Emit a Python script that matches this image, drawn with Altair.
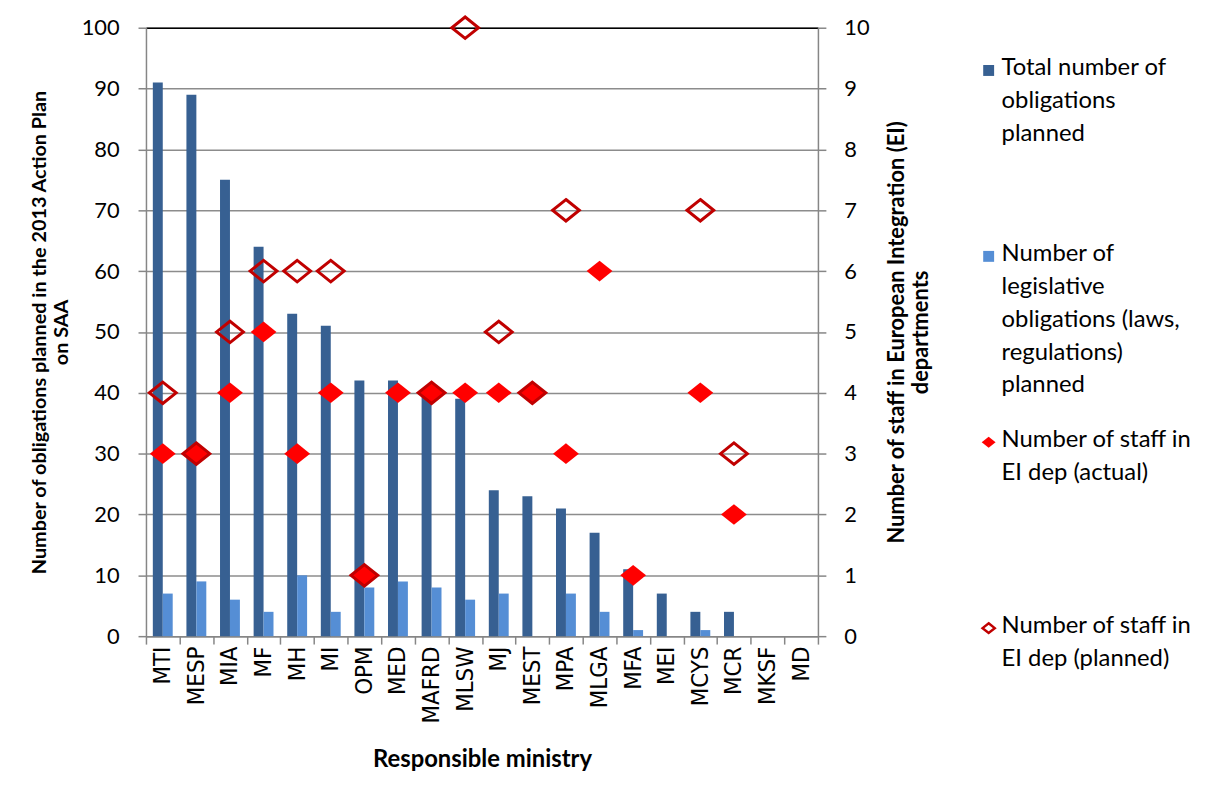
import altair as alt
import pandas as pd

ministries = ["MTI", "MESP", "MIA", "MF", "MH", "MI", "OPM", "MED", "MAFRD", "MLSW",
              "MJ", "MEST", "MPA", "MLGA", "MFA", "MEI", "MCYS", "MCR", "MKSF", "MD"]
total_obligations = [91, 89, 75, 64, 53, 51, 42, 42, 40, 39, 24, 23, 21, 17, 11, 7, 4, 4, 0, 0]
legislative_obligations = [7, 9, 6, 4, 10, 4, 8, 9, 8, 6, 7, 0, 7, 4, 1, 0, 1, 0, 0, 0]
staff_actual = [3, 3, 4, 5, 3, 4, 1, 4, 4, 4, 4, 4, 3, 6, 1, None, 4, 2, None, None]
staff_planned = [4, 3, 5, 6, 6, 6, 1, None, 4, 10, 5, 4, 7, None, None, None, 7, 3, None, None]

series_names = ["Total number of obligations planned",
                "Number of legislative obligations (laws, regulations) planned",
                "Number of staff in EI dep (actual)",
                "Number of staff in EI dep (planned)"]
legend_labels = ["Total number of\nobligations\nplanned",
                 "Number of\nlegislative\nobligations (laws,\nregulations)\nplanned",
                 "Number of staff in\nEI dep (actual)",
                 "Number of staff in\nEI dep (planned)"]
colors = ["#376092", "#558ED5", "#FF0000", "#C00000"]

DIAMOND = "M0,-0.8L1,0L0,0.8L-1,0Z"
GRID = "#8C8C8C"
AXIS = "#868686"
NUM_FONT = "Lato"
TITLE_FONT = "Lato"
XLAB_FONT = "Liberation Sans Narrow, DejaVu Sans Condensed, Liberation Sans"

bar_rows = []
for m, t, l in zip(ministries, total_obligations, legislative_obligations):
    bar_rows.append({"ministry": m, "series": series_names[0], "value": t})
    bar_rows.append({"ministry": m, "series": series_names[1], "value": l})
bar_df = pd.DataFrame(bar_rows)

actual_df = pd.DataFrame([{"ministry": m, "staff": v} for m, v in zip(ministries, staff_actual) if v is not None])
planned_df = pd.DataFrame([{"ministry": m, "staff": v} for m, v in zip(ministries, staff_planned) if v is not None])

x_scale = alt.Scale(domain=ministries, paddingInner=0, paddingOuter=0)

bars = alt.Chart(bar_df).mark_bar().encode(
    x=alt.X("ministry:N", sort=ministries, scale=x_scale,
            axis=alt.Axis(title="Responsible ministry", labelAngle=270, labelAlign="right",
                          labelBaseline="middle", labelFont=XLAB_FONT, labelFontSize=24,
                          labelColor="black", labelPadding=2, tickBand="extent",
                          tickSize=8, tickColor=AXIS, tickWidth=1.5, domainColor=AXIS,
                          domainWidth=1.5, titleFont=TITLE_FONT, titleFontSize=24,
                          titleFontWeight="bold", titleColor="black", titlePadding=25,
                          grid=False)),
    xOffset=alt.XOffset("series:N", sort=series_names[:2],
                        scale=alt.Scale(domain=series_names[:2], paddingInner=0, paddingOuter=0.69)),
    y=alt.Y("value:Q", scale=alt.Scale(domain=[0, 100], nice=False),
            axis=alt.Axis(title=["Number of obligations planned in the 2013 Action Plan", "on SAA"],
                          values=list(range(0, 101, 10)), grid=True, gridColor=GRID, gridWidth=1.5,
                          domainColor=AXIS, domainWidth=1.5, tickColor=AXIS, tickWidth=1.5,
                          tickSize=8, labelPadding=19, labelFont=NUM_FONT, labelFontSize=22,
                          labelColor="black", titleFont=TITLE_FONT, titleFontSize=20,
                          titleFontWeight="bold", titleColor="black", titleAngle=270,
                          titlePadding=10)),
    color=alt.Color("series:N", scale=alt.Scale(domain=series_names[:2], range=colors[:2]), legend=None),
)

staff_axis = alt.Axis(orient="right", title=["Number of staff in European Integration (EI)", "departments"],
                      values=list(range(0, 11)), grid=False, domainColor=AXIS, domainWidth=1.5,
                      tickColor=AXIS, tickWidth=1.5, tickSize=8, labelPadding=18,
                      labelFont=NUM_FONT, labelFontSize=22, labelColor="black",
                      titleFont=TITLE_FONT, titleFontSize=22, titleFontWeight="bold",
                      titleColor="black", titleAngle=270, titlePadding=16)
staff_scale = alt.Scale(domain=[0, 10], nice=False)
top_axis = alt.Axis(orient="top", title=None, labels=False, ticks=False, domainColor="black",
                    domainWidth=1.5, grid=False)

actual = alt.Chart(actual_df).mark_point(shape=DIAMOND, filled=True, color=colors[2], size=676,
                                         opacity=1).encode(
    x=alt.X("ministry:N", sort=ministries, scale=x_scale, axis=top_axis),
    y=alt.Y("staff:Q", scale=staff_scale, axis=staff_axis),
)
planned = alt.Chart(planned_df).mark_point(shape=DIAMOND, filled=False, color=colors[3], size=729,
                                           strokeWidth=3, opacity=1).encode(
    x=alt.X("ministry:N", sort=ministries, scale=x_scale, axis=top_axis),
    y=alt.Y("staff:Q", scale=staff_scale, axis=staff_axis),
)

points = alt.layer(actual, planned)
main = alt.layer(bars, points).resolve_scale(y="independent").resolve_axis(x="independent").properties(
    width=677, height=613)

# legend drawn as its own small panel
legend_df = pd.DataFrame({"series": series_names, "label": legend_labels})
leg_y = alt.Y("series:N", sort=series_names,
              scale=alt.Scale(type="point", domain=series_names, padding=0.23), axis=None)
leg_base = alt.Chart(legend_df)
leg_squares = leg_base.mark_square(size=121, opacity=1).encode(
    y=leg_y, x=alt.value(12),
    color=alt.Color("series:N", scale=alt.Scale(domain=series_names, range=colors), legend=None),
).transform_filter(alt.FieldOneOfPredicate(field="series", oneOf=series_names[:2]))
leg_actual = leg_base.mark_point(shape=DIAMOND, filled=True, color=colors[2], size=196, opacity=1).encode(
    y=leg_y, x=alt.value(12),
).transform_filter(alt.FieldEqualPredicate(field="series", equal=series_names[2]))
leg_planned = leg_base.mark_point(shape=DIAMOND, filled=False, color=colors[3], size=150,
                                  strokeWidth=2.5, opacity=1).encode(
    y=leg_y, x=alt.value(12),
).transform_filter(alt.FieldEqualPredicate(field="series", equal=series_names[3]))
leg_text = leg_base.mark_text(align="left", baseline="top", dy=-14, font="Lato",
                              fontSize=24, lineHeight=33, lineBreak="\n",
                              color="black").encode(
    y=leg_y,
    x=alt.value(25),
    text="label:N",
)
legend = alt.layer(leg_squares, leg_actual, leg_planned, leg_text).properties(width=230, height=648)

chart = alt.hconcat(main, legend, spacing=160, bounds="flush").configure(
    padding={"left": 21, "top": 0, "right": 5, "bottom": 0}
).configure_view(stroke=None)

chart.save("out.html", embed_options={"renderer": "svg", "actions": False})
